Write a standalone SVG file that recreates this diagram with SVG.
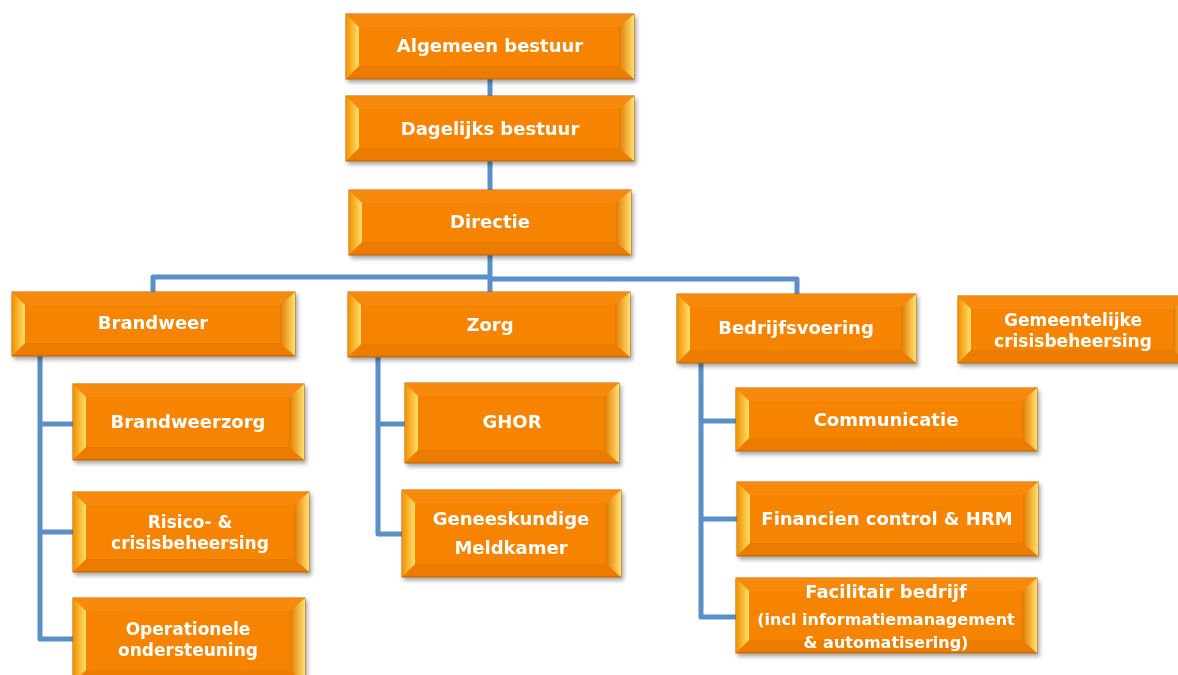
<svg xmlns="http://www.w3.org/2000/svg" width="1178" height="675" viewBox="0 0 1178 675">
<defs>
<style>
.out{fill:#EC7C00;stroke:#B55E00;stroke-width:1}
.top{fill:#F78A0C}
.face{fill:#F78400}
.lb{fill:url(#gl)}
.rb{fill:url(#gr)}
.t{fill:#fff;font-family:"DejaVu Sans",Verdana,sans-serif;font-weight:bold;font-size:18px;text-anchor:middle}
.s17{font-size:17px}
.s16{font-size:16px}
.node{filter:url(#sh)}
#conn path{fill:none;stroke:#5A8FC8;stroke-width:5;stroke-linejoin:round}
</style>
<linearGradient id="gl" x1="0" y1="0" x2="1" y2="0"><stop offset="0" stop-color="#F29000"/><stop offset="1" stop-color="#FFDF6A"/></linearGradient>
<linearGradient id="gr" x1="0" y1="0" x2="1" y2="0"><stop offset="0" stop-color="#E27A00"/><stop offset="1" stop-color="#FFE06E"/></linearGradient>
<filter id="sh" x="-10%" y="-10%" width="120%" height="130%"><feDropShadow dx="2" dy="3" stdDeviation="2" flood-color="#000" flood-opacity="0.35"/></filter>
</defs>
<rect width="1178" height="675" fill="#fff"/>
<g id="conn">
<path d="M490 79V190"/>
<path d="M490 255V292"/>
<path d="M153 292V277H490"/>
<path d="M490 279H797V294"/>
<path d="M40 356V639H73M40 424H73M40 532H73"/>
<path d="M378 357V534H402M378 424H405"/>
<path d="M701 363V617H736M701 421H736M701 519H737"/>
</g>
<g id="n-algemeen" class="node">
<rect class="out" x="346" y="14" width="288" height="65"/>
<polygon class="top" points="346,14 634,14 619,27 359,27"/>
<rect class="face" x="359" y="27" width="260" height="39"/>
<polygon class="lb" points="346,14 359,27 359,66 346,79"/>
<polygon class="rb" points="634,14 619,27 619,66 634,79"/>
<text class="t" x="490" y="52">Algemeen bestuur</text>
</g>
<g id="n-dagelijks" class="node">
<rect class="out" x="346" y="96" width="288" height="65"/>
<polygon class="top" points="346,96 634,96 619,109 359,109"/>
<rect class="face" x="359" y="109" width="260" height="39"/>
<polygon class="lb" points="346,96 359,109 359,148 346,161"/>
<polygon class="rb" points="634,96 619,109 619,148 634,161"/>
<text class="t" x="490" y="135">Dagelijks bestuur</text>
</g>
<g id="n-directie" class="node">
<rect class="out" x="349" y="190" width="282" height="65"/>
<polygon class="top" points="349,190 631,190 616,203 362,203"/>
<rect class="face" x="362" y="203" width="254" height="39"/>
<polygon class="lb" points="349,190 362,203 362,242 349,255"/>
<polygon class="rb" points="631,190 616,203 616,242 631,255"/>
<text class="t" x="490" y="228">Directie</text>
</g>
<g id="n-brandweer" class="node">
<rect class="out" x="12" y="292" width="283" height="64"/>
<polygon class="top" points="12,292 295,292 280,305 25,305"/>
<rect class="face" x="25" y="305" width="255" height="38"/>
<polygon class="lb" points="12,292 25,305 25,343 12,356"/>
<polygon class="rb" points="295,292 280,305 280,343 295,356"/>
<text class="t" x="153" y="329">Brandweer</text>
</g>
<g id="n-zorg" class="node">
<rect class="out" x="348" y="292" width="282" height="65"/>
<polygon class="top" points="348,292 630,292 615,305 361,305"/>
<rect class="face" x="361" y="305" width="254" height="39"/>
<polygon class="lb" points="348,292 361,305 361,344 348,357"/>
<polygon class="rb" points="630,292 615,305 615,344 630,357"/>
<text class="t" x="490" y="331">Zorg</text>
</g>
<g id="n-bedrijfsvoering" class="node">
<rect class="out" x="677" y="294" width="239" height="69"/>
<polygon class="top" points="677,294 916,294 901,307 690,307"/>
<rect class="face" x="690" y="307" width="211" height="43"/>
<polygon class="lb" points="677,294 690,307 690,350 677,363"/>
<polygon class="rb" points="916,294 901,307 901,350 916,363"/>
<text class="t" x="796" y="334">Bedrijfsvoering</text>
</g>
<g id="n-gemeentelijke" class="node">
<rect class="out" x="958" y="296" width="230" height="67"/>
<polygon class="top" points="958,296 1188,296 1173,309 971,309"/>
<rect class="face" x="971" y="309" width="202" height="41"/>
<polygon class="lb" points="958,296 971,309 971,350 958,363"/>
<polygon class="rb" points="1188,296 1173,309 1173,350 1188,363"/>
<text class="t s17" x="1073" y="326">Gemeentelijke</text>
<text class="t s17" x="1073" y="347">crisisbeheersing</text>
</g>
<g id="n-brandweerzorg" class="node">
<rect class="out" x="73" y="384" width="231" height="76"/>
<polygon class="top" points="73,384 304,384 289,397 86,397"/>
<rect class="face" x="86" y="397" width="203" height="50"/>
<polygon class="lb" points="73,384 86,397 86,447 73,460"/>
<polygon class="rb" points="304,384 289,397 289,447 304,460"/>
<text class="t" x="188" y="428">Brandweerzorg</text>
</g>
<g id="n-risico" class="node">
<rect class="out" x="73" y="492" width="236" height="80"/>
<polygon class="top" points="73,492 309,492 294,505 86,505"/>
<rect class="face" x="86" y="505" width="208" height="54"/>
<polygon class="lb" points="73,492 86,505 86,559 73,572"/>
<polygon class="rb" points="309,492 294,505 294,559 309,572"/>
<text class="t s17" x="190" y="528">Risico- &amp;</text>
<text class="t s17" x="190" y="549">crisisbeheersing</text>
</g>
<g id="n-operationele" class="node">
<rect class="out" x="73" y="598" width="232" height="85"/>
<polygon class="top" points="73,598 305,598 290,611 86,611"/>
<rect class="face" x="86" y="611" width="204" height="59"/>
<polygon class="lb" points="73,598 86,611 86,670 73,683"/>
<polygon class="rb" points="305,598 290,611 290,670 305,683"/>
<text class="t s17" x="188" y="635">Operationele</text>
<text class="t s17" x="188" y="656">ondersteuning</text>
</g>
<g id="n-ghor" class="node">
<rect class="out" x="405" y="383" width="214" height="80"/>
<polygon class="top" points="405,383 619,383 604,396 418,396"/>
<rect class="face" x="418" y="396" width="186" height="54"/>
<polygon class="lb" points="405,383 418,396 418,450 405,463"/>
<polygon class="rb" points="619,383 604,396 604,450 619,463"/>
<text class="t" x="512" y="428">GHOR</text>
</g>
<g id="n-meldkamer" class="node">
<rect class="out" x="402" y="490" width="219" height="87"/>
<polygon class="top" points="402,490 621,490 606,503 415,503"/>
<rect class="face" x="415" y="503" width="191" height="61"/>
<polygon class="lb" points="402,490 415,503 415,564 402,577"/>
<polygon class="rb" points="621,490 606,503 606,564 621,577"/>
<text class="t" x="511" y="525">Geneeskundige</text>
<text class="t" x="511" y="554">Meldkamer</text>
</g>
<g id="n-communicatie" class="node">
<rect class="out" x="736" y="388" width="301" height="63"/>
<polygon class="top" points="736,388 1037,388 1022,401 749,401"/>
<rect class="face" x="749" y="401" width="273" height="37"/>
<polygon class="lb" points="736,388 749,401 749,438 736,451"/>
<polygon class="rb" points="1037,388 1022,401 1022,438 1037,451"/>
<text class="t" x="886" y="426">Communicatie</text>
</g>
<g id="n-financien" class="node">
<rect class="out" x="737" y="482" width="301" height="74"/>
<polygon class="top" points="737,482 1038,482 1023,495 750,495"/>
<rect class="face" x="750" y="495" width="273" height="48"/>
<polygon class="lb" points="737,482 750,495 750,543 737,556"/>
<polygon class="rb" points="1038,482 1023,495 1023,543 1038,556"/>
<text class="t" x="887" y="525">Financien control &amp; HRM</text>
</g>
<g id="n-facilitair" class="node">
<rect class="out" x="736" y="578" width="301" height="75"/>
<polygon class="top" points="736,578 1037,578 1022,591 749,591"/>
<rect class="face" x="749" y="591" width="273" height="49"/>
<polygon class="lb" points="736,578 749,591 749,640 736,653"/>
<polygon class="rb" points="1037,578 1022,591 1022,640 1037,653"/>
<text class="t" x="886" y="598">Facilitair bedrijf</text>
<text class="t s16" x="886" y="625">(incl informatiemanagement</text>
<text class="t s16" x="886" y="648">&amp; automatisering)</text>
</g>
</svg>
